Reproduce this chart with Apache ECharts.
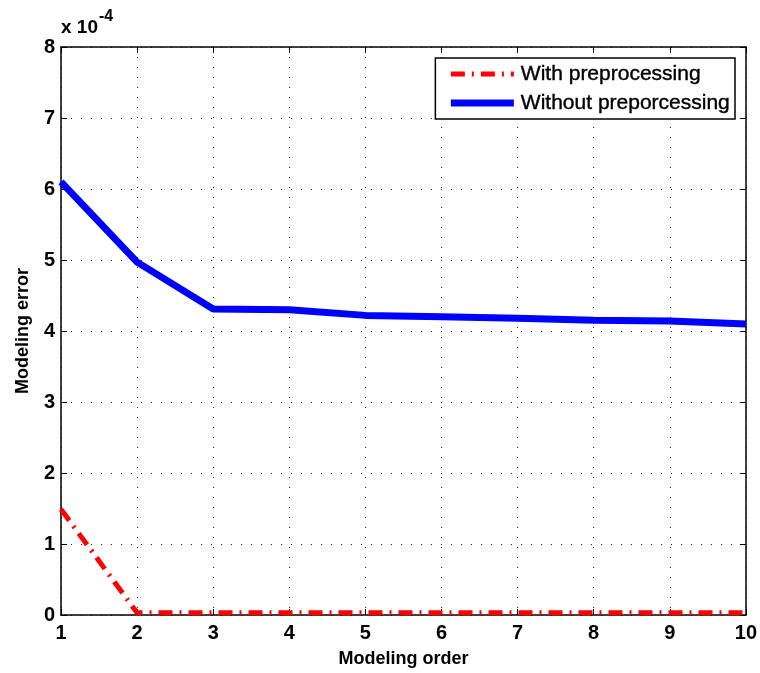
<!DOCTYPE html>
<html>
<head>
<meta charset="utf-8">
<script src="https://cdn.jsdelivr.net/npm/echarts@6/dist/echarts.min.js"></script>
<style>html,body{margin:0;padding:0;background:#fff;overflow:hidden}#c{width:760px;height:673px}</style>
</head>
<body>
<div id="c"></div>
<script>
const orders = [1, 2, 3, 4, 5, 6, 7, 8, 9, 10];
const withPre = [1.49, 0.03, 0.03, 0.03, 0.03, 0.03, 0.03, 0.03, 0.03, 0.03];
const withoutPre = [6.10, 4.97, 4.31, 4.30, 4.22, 4.20, 4.18, 4.15, 4.14, 4.10];
const seriesNames = ['With preprocessing', 'Without preporcessing'];
const xTicks = [1, 2, 3, 4, 5, 6, 7, 8, 9, 10];
const yTicks = [0, 1, 2, 3, 4, 5, 6, 7, 8];

const chart = echarts.init(document.getElementById('c'), null, {renderer: 'canvas', width: 760, height: 673});
const font = '"Liberation Sans", Arial, sans-serif';
const dotted = {color: '#222', width: 1, type: [1, 9]};
const hidden = {show: false};
const redDash = [14, 7, 2, 7];
chart.setOption({
  backgroundColor: '#fff',
  animation: false,
  grid: {left: 61, right: 13, top: 47, bottom: 57, show: false},
  legend: {
    right: 25, top: 58, orient: 'vertical', align: 'left',
    backgroundColor: '#fff', borderColor: '#000', borderWidth: 1.5, borderRadius: 0,
    padding: [4, 5, 4, 12], itemGap: 5, itemWidth: 63, itemHeight: 14,
    textStyle: {fontFamily: font, fontSize: 21, color: '#000', lineHeight: 24,
      textBorderColor: '#000', textBorderWidth: 0.4, padding: [0, 0, 0, 2]},
    data: [
      {name: seriesNames[0], itemStyle: {opacity: 0},
       lineStyle: {color: '#ff0000', width: 5, type: redDash, opacity: 1}},
      {name: seriesNames[1], itemStyle: {opacity: 0},
       lineStyle: {color: '#0000ff', width: 7, type: 'solid', opacity: 1}}
    ]
  },
  graphic: [{
    type: 'text', left: 61, top: 18,
    style: {text: 'x 10', fontFamily: font, fontSize: 19, fontWeight: 'bold', fill: '#000'}
  }, {
    type: 'text', left: 99, top: 9,
    style: {text: '-4', fontFamily: font, fontSize: 16, fontWeight: 'bold', fill: '#000'}
  }],
  xAxis: [{
    type: 'value', min: 1, max: 10, interval: 1,
    name: 'Modeling order', nameLocation: 'middle', nameGap: 35,
    nameTextStyle: {fontFamily: font, fontSize: 18, fontWeight: 'bold', color: '#000'},
    axisLine: {show: true, onZero: false, lineStyle: {color: '#000', width: 1.5}},
    axisTick: {show: true, inside: true, length: 6, lineStyle: {color: '#000'}},
    axisLabel: {fontFamily: font, fontSize: 20, fontWeight: 'bold', color: '#000', margin: 8,
      formatter: v => xTicks.includes(v) ? String(v) : ''},
    splitLine: {show: true, lineStyle: dotted}
  }, {
    type: 'value', min: 1, max: 10, interval: 1, position: 'top',
    axisLine: {show: true, onZero: false, lineStyle: {color: '#000', width: 1.5}},
    axisTick: {show: true, inside: true, length: 6, lineStyle: {color: '#000'}},
    axisLabel: hidden, splitLine: hidden
  }],
  yAxis: [{
    type: 'value', min: 0, max: 8, interval: 1,
    name: 'Modeling error', nameLocation: 'middle', nameGap: 29,
    nameTextStyle: {fontFamily: font, fontSize: 18, fontWeight: 'bold', color: '#000'},
    axisLine: {show: true, onZero: false, lineStyle: {color: '#000', width: 1.5}},
    axisTick: {show: true, inside: true, length: 6, lineStyle: {color: '#000'}},
    axisLabel: {fontFamily: font, fontSize: 20, fontWeight: 'bold', color: '#000', margin: 6,
      formatter: v => yTicks.includes(v) ? String(v) : ''},
    splitLine: {show: true, lineStyle: dotted}
  }, {
    type: 'value', min: 0, max: 8, interval: 1, position: 'right',
    axisLine: {show: true, onZero: false, lineStyle: {color: '#000', width: 1.5}},
    axisTick: {show: true, inside: true, length: 6, lineStyle: {color: '#000'}},
    axisLabel: hidden, splitLine: hidden
  }],
  series: [{
    name: seriesNames[0], type: 'line', showSymbol: false, symbol: 'none',
    data: orders.map((x, i) => [x, withPre[i]]),
    lineStyle: {color: '#ff0000', width: 5, type: redDash},
    itemStyle: {color: '#ff0000'}, z: 4
  }, {
    name: seriesNames[1], type: 'line', showSymbol: false, symbol: 'none',
    data: orders.map((x, i) => [x, withoutPre[i]]),
    lineStyle: {color: '#0000ff', width: 7},
    itemStyle: {color: '#0000ff'}, z: 3
  }]
});
</script>
</body>
</html>
